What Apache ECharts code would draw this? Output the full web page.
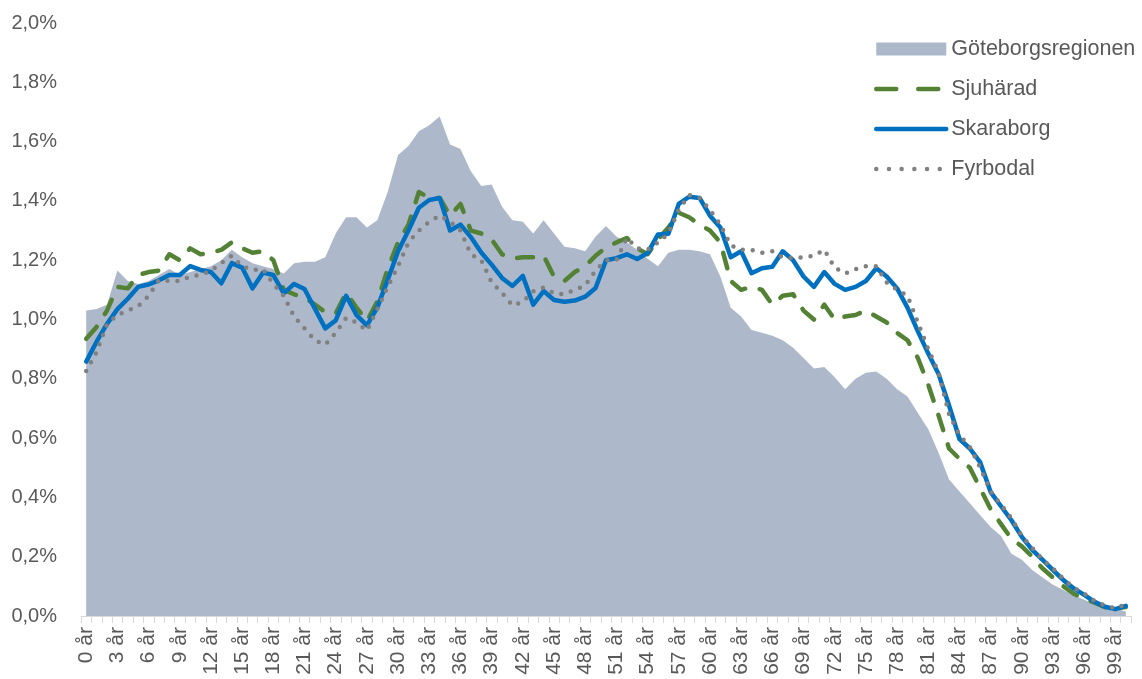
<!DOCTYPE html>
<html>
<head>
<meta charset="utf-8">
<script src="https://cdn.jsdelivr.net/npm/echarts@6/dist/echarts.min.js"></script>
<style>
  html, body { margin: 0; padding: 0; background: #fff; }
  #chart { width: 1142px; height: 679px; }
</style>
</head>
<body>
<div id="chart"></div>
<script>
// ålder 0–100 år
const ages = Array.from({ length: 101 }, (_, i) => i + ' år')

// andel av befolkningen per ålder, i procent
const goteborg = [
  1.03, 1.035, 1.05, 1.165, 1.13, 1.12, 1.13, 1.15, 1.17, 1.15,
  1.16, 1.17, 1.18, 1.20, 1.235, 1.21, 1.19, 1.18, 1.17, 1.155,
  1.19, 1.195, 1.195, 1.21, 1.29, 1.345, 1.345, 1.31, 1.335, 1.43,
  1.555, 1.585, 1.635, 1.655, 1.685, 1.59, 1.575, 1.50, 1.45, 1.455,
  1.38, 1.335, 1.33, 1.29, 1.335, 1.29, 1.245, 1.24, 1.23, 1.28,
  1.315, 1.28, 1.26, 1.235, 1.205, 1.18, 1.225, 1.235, 1.235, 1.23,
  1.22, 1.145, 1.04, 1.01, 0.965, 0.955, 0.945, 0.93, 0.905, 0.87,
  0.835, 0.84, 0.805, 0.765, 0.80, 0.82, 0.825, 0.80, 0.765, 0.74,
  0.685, 0.63, 0.55, 0.46, 0.42, 0.38, 0.34, 0.30, 0.27, 0.21,
  0.19, 0.155, 0.13, 0.105, 0.088, 0.07, 0.055, 0.04, 0.03, 0.025,
  0.015
]
const sjuharad = [
  0.935, 0.975, 1.03, 1.11, 1.105, 1.15, 1.16, 1.165, 1.22, 1.20,
  1.24, 1.22, 1.225, 1.235, 1.26, 1.24, 1.225, 1.23, 1.20, 1.10,
  1.085, 1.075, 1.05, 1.025, 1.02, 1.09, 1.04, 0.995, 1.06, 1.17,
  1.26, 1.32, 1.43, 1.41, 1.41, 1.35, 1.39, 1.30, 1.29, 1.27,
  1.22, 1.205, 1.21, 1.21, 1.215, 1.145, 1.13, 1.16, 1.18, 1.215,
  1.243, 1.26, 1.275, 1.24, 1.22, 1.27, 1.31, 1.36, 1.345, 1.32,
  1.30, 1.26, 1.13, 1.10, 1.11, 1.10, 1.05, 1.08, 1.085, 1.03,
  1.00, 1.05, 1.00, 1.01, 1.015, 1.03, 1.01, 0.99, 0.955, 0.93,
  0.87, 0.78, 0.675, 0.565, 0.53, 0.50, 0.43, 0.36, 0.31, 0.26,
  0.235, 0.20, 0.16, 0.13, 0.10, 0.075, 0.058, 0.045, 0.03, 0.025,
  0.03
]
const skaraborg = [
  0.858, 0.925, 0.985, 1.035, 1.07, 1.11, 1.118, 1.132, 1.15, 1.15,
  1.18, 1.167, 1.16, 1.122, 1.19, 1.175, 1.105, 1.158, 1.15, 1.088,
  1.12, 1.103, 1.036, 0.97, 0.997, 1.08, 1.015, 0.98, 1.04, 1.133,
  1.23, 1.30, 1.377, 1.403, 1.41, 1.30, 1.32, 1.278, 1.226, 1.185,
  1.14, 1.113, 1.147, 1.05, 1.096, 1.066, 1.06, 1.064, 1.077, 1.106,
  1.20, 1.207, 1.22, 1.204, 1.224, 1.287, 1.289, 1.39, 1.414, 1.41,
  1.35, 1.31, 1.21, 1.23, 1.156, 1.173, 1.178, 1.23, 1.20, 1.145,
  1.11, 1.16, 1.12, 1.10, 1.11, 1.13, 1.173, 1.145, 1.105, 1.04,
  0.96, 0.885, 0.815, 0.71, 0.597, 0.565, 0.518, 0.418, 0.37, 0.323,
  0.267, 0.223, 0.189, 0.155, 0.121, 0.093, 0.071, 0.048, 0.031, 0.023,
  0.034
]
const fyrbodal = [
  0.826, 0.89, 0.985, 1.015, 1.03, 1.045, 1.08, 1.133, 1.13, 1.13,
  1.145, 1.15, 1.165, 1.19, 1.215, 1.18, 1.167, 1.17, 1.12, 1.08,
  1.01, 0.97, 0.93, 0.915, 0.955, 1.005, 0.99, 0.962, 1.035, 1.11,
  1.18, 1.26, 1.30, 1.33, 1.35, 1.33, 1.30, 1.22, 1.20, 1.125,
  1.09, 1.047, 1.06, 1.095, 1.108, 1.088, 1.085, 1.10, 1.115, 1.165,
  1.20, 1.20, 1.275, 1.24, 1.235, 1.26, 1.29, 1.37, 1.42, 1.41,
  1.37, 1.32, 1.25, 1.235, 1.235, 1.225, 1.23, 1.21, 1.207, 1.21,
  1.215, 1.235, 1.175, 1.155, 1.17, 1.18, 1.18, 1.125, 1.10, 1.08,
  0.99, 0.90, 0.82, 0.68, 0.61, 0.57, 0.50, 0.42, 0.375, 0.33,
  0.27, 0.23, 0.19, 0.16, 0.125, 0.095, 0.075, 0.05, 0.035, 0.025,
  0.04
]

const textColor = '#595959'
const fontFamily = 'Liberation Sans, Arial, sans-serif'
const noSymbol = { color: 'transparent', borderWidth: 0, opacity: 0 }

const chart = echarts.init(document.getElementById('chart'))

const option = {
  animation: false,
  textStyle: { fontFamily: fontFamily },
  grid: { left: 81, right: 11, top: 23, bottom: 63, containLabel: false },
  legend: {
    orient: 'vertical',
    left: 874,
    top: 38,
    padding: 0,
    itemWidth: 70,
    itemHeight: 13,
    itemGap: 18,
    textStyle: { fontSize: 21.5, color: textColor, lineHeight: 20, fontFamily: fontFamily },
    data: [
      { name: 'Göteborgsregionen', icon: 'rect' },
      {
        name: 'Sjuhärad',
        itemStyle: noSymbol,
        lineStyle: { width: 4.5, type: [20, 22], cap: 'round' }
      },
      {
        name: 'Skaraborg',
        itemStyle: noSymbol,
        lineStyle: { width: 4.5, cap: 'round' }
      },
      {
        name: 'Fyrbodal',
        itemStyle: noSymbol,
        lineStyle: { width: 4.5, type: [0, 12.7], cap: 'round' }
      }
    ]
  },
  xAxis: {
    type: 'category',
    data: ages,
    boundaryGap: true,
    axisLine: { lineStyle: { color: '#D9D9D9', width: 1 } },
    axisTick: { show: true, interval: 0, length: 7, lineStyle: { color: '#D9D9D9' } },
    axisLabel: {
      interval: 2,
      rotate: 90,
      margin: 11,
      fontSize: 21,
      color: textColor,
      fontFamily: fontFamily
    },
    splitLine: { show: false }
  },
  yAxis: {
    type: 'value',
    min: 0,
    max: 2.0,
    interval: 0.2,
    axisLine: { show: false },
    axisTick: { show: false },
    splitLine: { show: false },
    axisLabel: {
      margin: 24,
      fontSize: 20,
      color: textColor,
      fontFamily: fontFamily,
      formatter: v => v.toFixed(1).replace('.', ',') + '%'
    }
  },
  series: [
    {
      name: 'Göteborgsregionen',
      type: 'line',
      data: goteborg,
      symbol: 'none',
      color: '#ADB9CA',
      lineStyle: { width: 0 },
      areaStyle: { color: '#ADB9CA', opacity: 1 }
    },
    {
      name: 'Sjuhärad',
      type: 'line',
      data: sjuharad,
      symbol: 'none',
      color: '#548235',
      lineStyle: { width: 4.5, color: '#548235', type: [16, 15], cap: 'round', join: 'round' }
    },
    {
      name: 'Skaraborg',
      type: 'line',
      data: skaraborg,
      symbol: 'none',
      color: '#0070C0',
      lineStyle: { width: 4.5, color: '#0070C0', cap: 'round', join: 'round' }
    },
    {
      name: 'Fyrbodal',
      type: 'line',
      data: fyrbodal,
      symbol: 'none',
      color: '#808080',
      lineStyle: { width: 4.5, color: '#808080', type: [0, 10], cap: 'round', join: 'round' }
    }
  ]
}

chart.setOption(option)
window.addEventListener('resize', () => chart.resize())
</script>
</body>
</html>
